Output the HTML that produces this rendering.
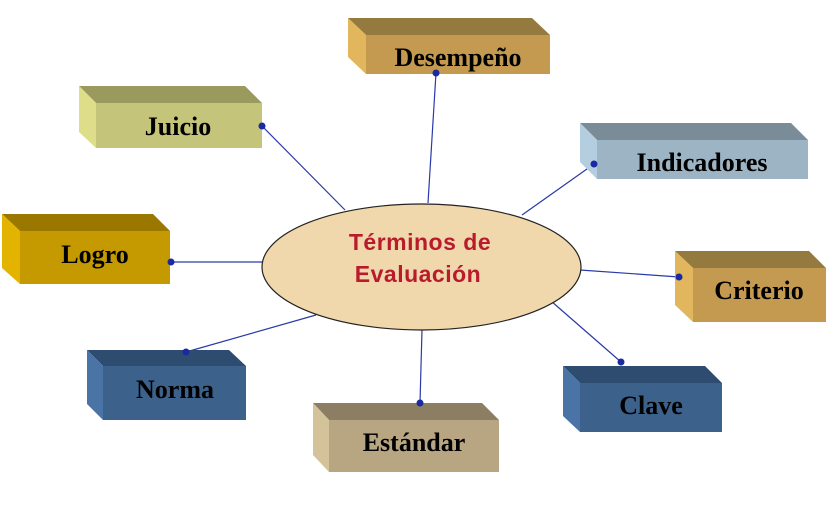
<!DOCTYPE html>
<html><head><meta charset="utf-8"><style>
html,body{margin:0;padding:0;background:#fff;}
svg{display:block;}
.t{font-family:"Liberation Serif",serif;font-weight:bold;font-size:26px;fill:#000;text-anchor:middle;}
</style></head><body>
<svg width="836" height="506" viewBox="0 0 836 506" xmlns="http://www.w3.org/2000/svg">
<g stroke="#2a3aa8" stroke-width="1.2">
<line x1="436" y1="73" x2="428" y2="203"/>
<line x1="262" y1="126" x2="345" y2="210"/>
<line x1="594" y1="164" x2="522" y2="215"/>
<line x1="171" y1="262" x2="262" y2="262"/>
<line x1="679" y1="277" x2="580" y2="270"/>
<line x1="621" y1="362" x2="551" y2="301"/>
<line x1="186" y1="352" x2="316" y2="315"/>
<line x1="420" y1="403" x2="422" y2="330"/>
</g>
<polygon points="348,18 532,18 550,35 366,35" fill="#957a40"/>
<polygon points="348,18 366,35 366,74 348,57" fill="#e2b65c"/>
<rect x="366" y="35" width="184" height="39" fill="#c49a50"/>
<text class="t" x="458" y="66">Desempeño</text>
<polygon points="79,86 245,86 262,103 96,103" fill="#9a9a5e"/>
<polygon points="79,86 96,103 96,148 79,132" fill="#dede8a"/>
<rect x="96" y="103" width="166" height="45" fill="#c4c47a"/>
<text class="t" x="178" y="135">Juicio</text>
<polygon points="580,123 791,123 808,140 597,140" fill="#7a8c98"/>
<polygon points="580,123 597,140 597,179 580,162" fill="#b4cee0"/>
<rect x="597" y="140" width="211" height="39" fill="#9cb4c4"/>
<text class="t" x="702" y="171">Indicadores</text>
<polygon points="2,214 153,214 170,231 20,231" fill="#9a7800"/>
<polygon points="2,214 20,231 20,284 2,268" fill="#e2b400"/>
<rect x="20" y="231" width="150" height="53" fill="#c49a00"/>
<text class="t" x="95" y="263">Logro</text>
<polygon points="675,251 809,251 826,268 693,268" fill="#957a40"/>
<polygon points="675,251 693,268 693,322 675,305" fill="#e2b65c"/>
<rect x="693" y="268" width="133" height="54" fill="#c49a50"/>
<text class="t" x="759" y="299">Criterio</text>
<polygon points="87,350 229,350 246,366 103,366" fill="#2e4c70"/>
<polygon points="87,350 103,366 103,420 87,404" fill="#4a74a6"/>
<rect x="103" y="366" width="143" height="54" fill="#3c628c"/>
<text class="t" x="175" y="398">Norma</text>
<polygon points="563,366 705,366 722,383 580,383" fill="#2e4c70"/>
<polygon points="563,366 580,383 580,432 563,416" fill="#4a74a6"/>
<rect x="580" y="383" width="142" height="49" fill="#3c628c"/>
<text class="t" x="651" y="414">Clave</text>
<polygon points="313,403 482,403 499,420 329,420" fill="#8c7e62"/>
<polygon points="313,403 329,420 329,472 313,455" fill="#d4c29a"/>
<rect x="329" y="420" width="170" height="52" fill="#b8a582"/>
<text class="t" x="414" y="451">Estándar</text>
<ellipse cx="421.5" cy="267" rx="159.5" ry="63" fill="#f0d8ac" stroke="#222" stroke-width="1.2"/>
<g font-family="'Liberation Sans',sans-serif" font-weight="bold" font-size="23" fill="#b81c2c" text-anchor="middle" letter-spacing="0.5">
<text x="420" y="250">Términos de</text>
<text x="418" y="282">Evaluación</text>
</g>
<g fill="#1a2aa0">
<circle cx="436" cy="73" r="3.5"/><circle cx="262" cy="126" r="3.5"/>
<circle cx="594" cy="164" r="3.5"/><circle cx="171" cy="262" r="3.5"/>
<circle cx="679" cy="277" r="3.5"/><circle cx="621" cy="362" r="3.5"/>
<circle cx="186" cy="352" r="3.5"/><circle cx="420" cy="403" r="3.5"/>
</g>
</svg>
</body></html>
